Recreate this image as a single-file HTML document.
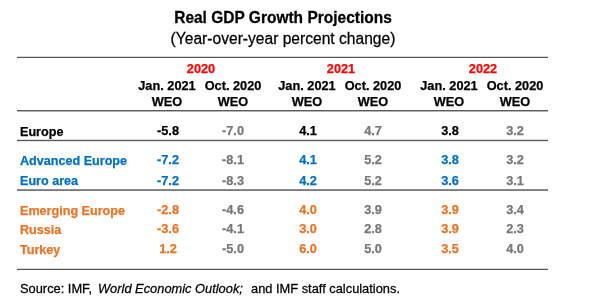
<!DOCTYPE html>
<html><head><meta charset="utf-8"><title>Real GDP Growth Projections</title>
<style>
html,body{margin:0;padding:0;background:#fff;}
body{width:600px;height:308px;position:relative;overflow:hidden;font-family:"Liberation Sans",sans-serif;}
.t{position:absolute;line-height:1;white-space:nowrap;will-change:transform;-webkit-text-stroke:0.25px currentColor;}
.ln{position:absolute;left:17px;width:531px;height:1px;}
</style></head><body>
<div class="t" style="left:83.30px;top:10.18px;width:400px;font-size:15.5px;font-weight:bold;color:#000000;text-align:center;transform:scaleY(1.05);transform-origin:50% 13.121px;">Real GDP Growth Projections</div>
<div class="t" style="left:82.70px;top:30.89px;width:400px;font-size:15.6px;font-weight:normal;color:#000000;text-align:center;transform:scaleY(1.05);transform-origin:50% 13.205px;">(Year-over-year percent change)</div>
<div class="t" style="left:140.80px;top:62.81px;width:120px;font-size:12.75px;font-weight:bold;color:#ff0000;text-align:center;transform:scaleY(1.0);transform-origin:50% 10.793px;">2020</div>
<div class="t" style="left:280.60px;top:62.81px;width:120px;font-size:12.75px;font-weight:bold;color:#ff0000;text-align:center;transform:scaleY(1.0);transform-origin:50% 10.793px;">2021</div>
<div class="t" style="left:422.60px;top:62.81px;width:120px;font-size:12.75px;font-weight:bold;color:#ff0000;text-align:center;transform:scaleY(1.0);transform-origin:50% 10.793px;">2022</div>
<div class="t" style="left:106.80px;top:80.01px;width:120px;font-size:12.75px;font-weight:bold;color:#000000;text-align:center;transform:scaleY(1.0);transform-origin:50% 10.793px;">Jan. 2021</div>
<div class="t" style="left:106.80px;top:96.21px;width:120px;font-size:12.75px;font-weight:bold;color:#000000;text-align:center;transform:scaleY(1.0);transform-origin:50% 10.793px;">WEO</div>
<div class="t" style="left:172.80px;top:80.01px;width:120px;font-size:12.75px;font-weight:bold;color:#000000;text-align:center;transform:scaleY(1.0);transform-origin:50% 10.793px;">Oct. 2020</div>
<div class="t" style="left:172.80px;top:96.21px;width:120px;font-size:12.75px;font-weight:bold;color:#000000;text-align:center;transform:scaleY(1.0);transform-origin:50% 10.793px;">WEO</div>
<div class="t" style="left:246.60px;top:80.01px;width:120px;font-size:12.75px;font-weight:bold;color:#000000;text-align:center;transform:scaleY(1.0);transform-origin:50% 10.793px;">Jan. 2021</div>
<div class="t" style="left:246.60px;top:96.21px;width:120px;font-size:12.75px;font-weight:bold;color:#000000;text-align:center;transform:scaleY(1.0);transform-origin:50% 10.793px;">WEO</div>
<div class="t" style="left:312.60px;top:80.01px;width:120px;font-size:12.75px;font-weight:bold;color:#000000;text-align:center;transform:scaleY(1.0);transform-origin:50% 10.793px;">Oct. 2020</div>
<div class="t" style="left:312.60px;top:96.21px;width:120px;font-size:12.75px;font-weight:bold;color:#000000;text-align:center;transform:scaleY(1.0);transform-origin:50% 10.793px;">WEO</div>
<div class="t" style="left:388.50px;top:80.01px;width:120px;font-size:12.75px;font-weight:bold;color:#000000;text-align:center;transform:scaleY(1.0);transform-origin:50% 10.793px;">Jan. 2021</div>
<div class="t" style="left:388.50px;top:96.21px;width:120px;font-size:12.75px;font-weight:bold;color:#000000;text-align:center;transform:scaleY(1.0);transform-origin:50% 10.793px;">WEO</div>
<div class="t" style="left:454.50px;top:80.01px;width:120px;font-size:12.75px;font-weight:bold;color:#000000;text-align:center;transform:scaleY(1.0);transform-origin:50% 10.793px;">Oct. 2020</div>
<div class="t" style="left:454.50px;top:96.21px;width:120px;font-size:12.75px;font-weight:bold;color:#000000;text-align:center;transform:scaleY(1.0);transform-origin:50% 10.793px;">WEO</div>
<div class="t" style="left:20.00px;top:125.63px;font-size:12.6px;font-weight:bold;color:#000000;transform:scaleY(1.0);transform-origin:0 10.666px;">Europe</div>
<div class="t" style="left:108.00px;top:124.71px;width:120px;font-size:12.75px;font-weight:bold;color:#000000;text-align:center;transform:scaleY(1.0);transform-origin:50% 10.793px;">-5.8</div>
<div class="t" style="left:173.40px;top:124.71px;width:120px;font-size:12.75px;font-weight:bold;color:#787878;text-align:center;transform:scaleY(1.0);transform-origin:50% 10.793px;">-7.0</div>
<div class="t" style="left:248.00px;top:124.71px;width:120px;font-size:12.75px;font-weight:bold;color:#000000;text-align:center;transform:scaleY(1.0);transform-origin:50% 10.793px;">4.1</div>
<div class="t" style="left:313.20px;top:124.71px;width:120px;font-size:12.75px;font-weight:bold;color:#787878;text-align:center;transform:scaleY(1.0);transform-origin:50% 10.793px;">4.7</div>
<div class="t" style="left:389.50px;top:124.71px;width:120px;font-size:12.75px;font-weight:bold;color:#000000;text-align:center;transform:scaleY(1.0);transform-origin:50% 10.793px;">3.8</div>
<div class="t" style="left:455.30px;top:124.71px;width:120px;font-size:12.75px;font-weight:bold;color:#787878;text-align:center;transform:scaleY(1.0);transform-origin:50% 10.793px;">3.2</div>
<div class="t" style="left:20.00px;top:155.33px;font-size:12.6px;font-weight:bold;color:#0070c0;transform:scaleY(1.0);transform-origin:0 10.666px;">Advanced Europe</div>
<div class="t" style="left:108.00px;top:154.41px;width:120px;font-size:12.75px;font-weight:bold;color:#0070c0;text-align:center;transform:scaleY(1.0);transform-origin:50% 10.793px;">-7.2</div>
<div class="t" style="left:173.40px;top:154.41px;width:120px;font-size:12.75px;font-weight:bold;color:#787878;text-align:center;transform:scaleY(1.0);transform-origin:50% 10.793px;">-8.1</div>
<div class="t" style="left:248.00px;top:154.41px;width:120px;font-size:12.75px;font-weight:bold;color:#0070c0;text-align:center;transform:scaleY(1.0);transform-origin:50% 10.793px;">4.1</div>
<div class="t" style="left:313.20px;top:154.41px;width:120px;font-size:12.75px;font-weight:bold;color:#787878;text-align:center;transform:scaleY(1.0);transform-origin:50% 10.793px;">5.2</div>
<div class="t" style="left:389.50px;top:154.41px;width:120px;font-size:12.75px;font-weight:bold;color:#0070c0;text-align:center;transform:scaleY(1.0);transform-origin:50% 10.793px;">3.8</div>
<div class="t" style="left:455.30px;top:154.41px;width:120px;font-size:12.75px;font-weight:bold;color:#787878;text-align:center;transform:scaleY(1.0);transform-origin:50% 10.793px;">3.2</div>
<div class="t" style="left:20.00px;top:175.43px;font-size:12.6px;font-weight:bold;color:#0070c0;transform:scaleY(1.0);transform-origin:0 10.666px;">Euro area</div>
<div class="t" style="left:108.00px;top:174.51px;width:120px;font-size:12.75px;font-weight:bold;color:#0070c0;text-align:center;transform:scaleY(1.0);transform-origin:50% 10.793px;">-7.2</div>
<div class="t" style="left:173.40px;top:174.51px;width:120px;font-size:12.75px;font-weight:bold;color:#787878;text-align:center;transform:scaleY(1.0);transform-origin:50% 10.793px;">-8.3</div>
<div class="t" style="left:248.00px;top:174.51px;width:120px;font-size:12.75px;font-weight:bold;color:#0070c0;text-align:center;transform:scaleY(1.0);transform-origin:50% 10.793px;">4.2</div>
<div class="t" style="left:313.20px;top:174.51px;width:120px;font-size:12.75px;font-weight:bold;color:#787878;text-align:center;transform:scaleY(1.0);transform-origin:50% 10.793px;">5.2</div>
<div class="t" style="left:389.50px;top:174.51px;width:120px;font-size:12.75px;font-weight:bold;color:#0070c0;text-align:center;transform:scaleY(1.0);transform-origin:50% 10.793px;">3.6</div>
<div class="t" style="left:455.30px;top:174.51px;width:120px;font-size:12.75px;font-weight:bold;color:#787878;text-align:center;transform:scaleY(1.0);transform-origin:50% 10.793px;">3.1</div>
<div class="t" style="left:20.00px;top:204.53px;font-size:12.6px;font-weight:bold;color:#eb7427;transform:scaleY(1.0);transform-origin:0 10.666px;">Emerging Europe</div>
<div class="t" style="left:108.00px;top:203.61px;width:120px;font-size:12.75px;font-weight:bold;color:#eb7427;text-align:center;transform:scaleY(1.0);transform-origin:50% 10.793px;">-2.8</div>
<div class="t" style="left:173.40px;top:203.61px;width:120px;font-size:12.75px;font-weight:bold;color:#787878;text-align:center;transform:scaleY(1.0);transform-origin:50% 10.793px;">-4.6</div>
<div class="t" style="left:248.00px;top:203.61px;width:120px;font-size:12.75px;font-weight:bold;color:#eb7427;text-align:center;transform:scaleY(1.0);transform-origin:50% 10.793px;">4.0</div>
<div class="t" style="left:313.20px;top:203.61px;width:120px;font-size:12.75px;font-weight:bold;color:#787878;text-align:center;transform:scaleY(1.0);transform-origin:50% 10.793px;">3.9</div>
<div class="t" style="left:389.50px;top:203.61px;width:120px;font-size:12.75px;font-weight:bold;color:#eb7427;text-align:center;transform:scaleY(1.0);transform-origin:50% 10.793px;">3.9</div>
<div class="t" style="left:455.30px;top:203.61px;width:120px;font-size:12.75px;font-weight:bold;color:#787878;text-align:center;transform:scaleY(1.0);transform-origin:50% 10.793px;">3.4</div>
<div class="t" style="left:20.00px;top:224.33px;font-size:12.6px;font-weight:bold;color:#eb7427;transform:scaleY(1.0);transform-origin:0 10.666px;">Russia</div>
<div class="t" style="left:108.00px;top:223.41px;width:120px;font-size:12.75px;font-weight:bold;color:#eb7427;text-align:center;transform:scaleY(1.0);transform-origin:50% 10.793px;">-3.6</div>
<div class="t" style="left:173.40px;top:223.41px;width:120px;font-size:12.75px;font-weight:bold;color:#787878;text-align:center;transform:scaleY(1.0);transform-origin:50% 10.793px;">-4.1</div>
<div class="t" style="left:248.00px;top:223.41px;width:120px;font-size:12.75px;font-weight:bold;color:#eb7427;text-align:center;transform:scaleY(1.0);transform-origin:50% 10.793px;">3.0</div>
<div class="t" style="left:313.20px;top:223.41px;width:120px;font-size:12.75px;font-weight:bold;color:#787878;text-align:center;transform:scaleY(1.0);transform-origin:50% 10.793px;">2.8</div>
<div class="t" style="left:389.50px;top:223.41px;width:120px;font-size:12.75px;font-weight:bold;color:#eb7427;text-align:center;transform:scaleY(1.0);transform-origin:50% 10.793px;">3.9</div>
<div class="t" style="left:455.30px;top:223.41px;width:120px;font-size:12.75px;font-weight:bold;color:#787878;text-align:center;transform:scaleY(1.0);transform-origin:50% 10.793px;">2.3</div>
<div class="t" style="left:20.00px;top:244.33px;font-size:12.6px;font-weight:bold;color:#eb7427;transform:scaleY(1.0);transform-origin:0 10.666px;">Turkey</div>
<div class="t" style="left:108.00px;top:243.41px;width:120px;font-size:12.75px;font-weight:bold;color:#eb7427;text-align:center;transform:scaleY(1.0);transform-origin:50% 10.793px;">1.2</div>
<div class="t" style="left:173.40px;top:243.41px;width:120px;font-size:12.75px;font-weight:bold;color:#787878;text-align:center;transform:scaleY(1.0);transform-origin:50% 10.793px;">-5.0</div>
<div class="t" style="left:248.00px;top:243.41px;width:120px;font-size:12.75px;font-weight:bold;color:#eb7427;text-align:center;transform:scaleY(1.0);transform-origin:50% 10.793px;">6.0</div>
<div class="t" style="left:313.20px;top:243.41px;width:120px;font-size:12.75px;font-weight:bold;color:#787878;text-align:center;transform:scaleY(1.0);transform-origin:50% 10.793px;">5.0</div>
<div class="t" style="left:389.50px;top:243.41px;width:120px;font-size:12.75px;font-weight:bold;color:#eb7427;text-align:center;transform:scaleY(1.0);transform-origin:50% 10.793px;">3.5</div>
<div class="t" style="left:455.30px;top:243.41px;width:120px;font-size:12.75px;font-weight:bold;color:#787878;text-align:center;transform:scaleY(1.0);transform-origin:50% 10.793px;">4.0</div>
<div class="ln" style="top:56px;background:#d8d8d8"></div>
<div class="ln" style="top:57px;background:#555555"></div>
<div class="ln" style="top:110px;background:#5c5c5c"></div>
<div class="ln" style="top:111px;background:#b4b4b4"></div>
<div class="ln" style="top:139px;background:#dedede"></div>
<div class="ln" style="top:140px;background:#585858"></div>
<div class="ln" style="top:141px;background:#e4e4e4"></div>
<div class="ln" style="top:189px;background:#8c8c8c"></div>
<div class="ln" style="top:190px;background:#7c7c7c"></div>
<div class="ln" style="top:268px;background:#d8d8d8"></div>
<div class="ln" style="top:269px;background:#555555"></div>
<div class="t" style="left:20.00px;top:283.12px;font-size:12.85px;font-weight:normal;color:#000000;transform:scaleY(1.04);transform-origin:0 10.878px;">Source: IMF,</div>
<div class="t" style="left:97.50px;top:283.12px;font-size:12.85px;font-weight:normal;color:#000000;transform:scaleY(1.04);transform-origin:0 10.878px;"><i>World Economic Outlook;</i></div>
<div class="t" style="left:250.50px;top:283.12px;font-size:12.85px;font-weight:normal;color:#000000;transform:scaleY(1.04);transform-origin:0 10.878px;">and IMF staff calculations.</div>
</body></html>
